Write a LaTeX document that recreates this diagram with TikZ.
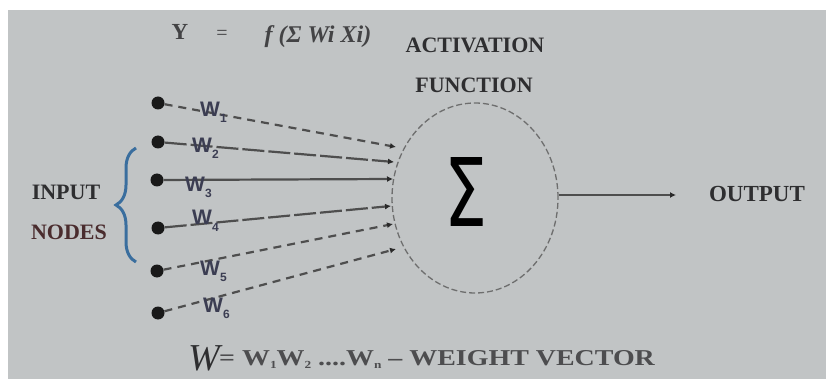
\documentclass[tikz,border=0pt]{standalone}
\usepackage{fontspec}
\setmainfont{Liberation Serif}
\newfontfamily\lsans{Liberation Sans}
\newfontfamily\dsans{DejaVu Sans}
\usetikzlibrary{decorations.pathreplacing,arrows.meta,shapes.geometric}
\definecolor{bgc}{HTML}{C1C4C5}
\definecolor{txt}{HTML}{2E2E30}
\definecolor{nodestxt}{HTML}{4A2C2E}
\definecolor{wlabc}{HTML}{3B3D52}
\definecolor{lin}{HTML}{4E4E4E}
\definecolor{tipc}{HTML}{2A2A2A}
\definecolor{bracec}{HTML}{3A6E9E}
\definecolor{ellc}{HTML}{6E6E6E}
\newcommand\wlab[1]{W\raisebox{-6pt}{\fontsize{12}{12}\selectfont #1}}
\begin{document}
\begin{tikzpicture}[x=1pt,y=-1pt,
  lbl/.style={font=\fontsize{22}{22}\selectfont\bfseries, text=txt, inner sep=0pt, anchor=base},
  wl/.style={font=\lsans\fontsize{21}{21}\selectfont\bfseries, text=wlabc, inner sep=0pt, anchor=base west},
  dot/.style={circle, fill=black!90, minimum size=13pt, inner sep=0pt},
  conn/.style={draw=lin, line width=2.2pt, -{Latex[length=6pt,width=6pt,color=tipc]}},
  dsh/.style={dash pattern=on 8pt off 6pt},
  ldsh/.style={dash pattern=on 22pt off 4pt}]
\useasboundingbox (0,0) rectangle (826,379);
\fill[white] (0,0) rectangle (826,379);
\fill[bgc] (8,10) rectangle (826,379);

% title
\node[lbl, font=\fontsize{23}{23}\selectfont\bfseries, text=txt!90] (ty) at (180,40) {Y};
\node[lbl, font=\fontsize{20}{20}\selectfont, text=txt!90] (teq) at (222,40) {=};
\node[lbl, font=\fontsize{24}{24}\selectfont\bfseries\itshape, text=txt!90] (tf) at (318,43) {f (Σ Wi Xi)};
\node[lbl] (act) at (475,53) {ACTIVATION};
\node[lbl] (fun) at (474,93) {FUNCTION};

% neuron
\node[draw=ellc, ellipse, line width=1.3pt, dash pattern=on 6pt off 3pt,
      minimum width=166pt, minimum height=190pt, inner sep=0pt] (sum) at (475,198) {};
\node[inner sep=0pt] (sig) at (466,192) {\resizebox{43pt}{69pt}{\dsans Σ}};

% inputs
\node[dot] (d1) at (158,103) {};
\node[dot] (d2) at (158,142) {};
\node[dot] (d3) at (157,180) {};
\node[dot] (d4) at (158,228) {};
\node[dot] (d5) at (157,271) {};
\node[dot] (d6) at (158,313) {};

\coordinate (e1) at (396,147);
\coordinate (e2) at (394,162);
\coordinate (e3) at (393,179);
\coordinate (e4) at (391,206);
\coordinate (e5) at (393,224);
\coordinate (e6) at (396,249);

\draw[conn, dsh] (d1) -- (e1);
\draw[conn, ldsh] (d2) -- (e2);
\draw[conn] (d3) -- (e3);
\draw[conn, ldsh] (d4) -- (e4);
\draw[conn, dsh] (d5) -- (e5);
\draw[conn, dsh] (d6) -- (e6);

\node[wl] (w1) at (200,117) {\wlab{1}};
\node[wl] (w2) at (192,153) {\wlab{2}};
\node[wl] (w3) at (185,192) {\wlab{3}};
\node[wl] (w4) at (192,225) {\wlab{4}};
\node[wl] (w5) at (200,275) {\wlab{5}};
\node[wl] (w6) at (203,312) {\wlab{6}};

% brace and input label
\coordinate (bb) at (136,262);
\coordinate (bt) at (136,148);
\draw[bracec, line width=3pt, decorate, decoration={brace, amplitude=20pt}] (bb) -- (bt);
\node[lbl] (inp) at (66,200) {INPUT};
\node[lbl, text=nodestxt] (nds) at (69,240) {NODES};

% output
\coordinate (out) at (676,195);
\draw[conn] ([yshift=3pt]sum.east) -- (out);
\node[lbl, font=\fontsize{23}{23}\selectfont\bfseries] (outl) at (757,202) {OUTPUT};

% weight vector
\node[lbl, font=\fontsize{38}{38}\selectfont\itshape, anchor=base west] (bw) at (188,370) {W};
\node[lbl, font=\fontsize{21}{21}\selectfont\bfseries, text=txt!85, anchor=base west] (wv) at (219,365)
  {\scalebox{1.33}[1.08]{={ W\raisebox{-3pt}{\fontsize{10}{10}\selectfont 1}W\raisebox{-3pt}{\fontsize{10}{10}\selectfont 2} ....W\raisebox{-3pt}{\fontsize{10}{10}\selectfont n}} – WEIGHT VECTOR}};
\end{tikzpicture}
\end{document}
